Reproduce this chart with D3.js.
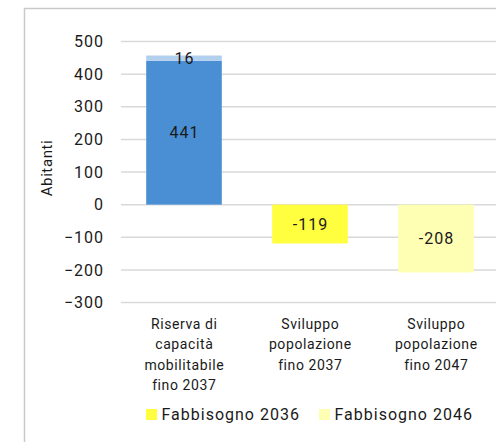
<!DOCTYPE html>
<html>
<head>
<meta charset="utf-8">
<script src="https://cdn.jsdelivr.net/npm/d3@7"></script>
<style>
  body { margin: 0; background: #fff; }
  text { font-family: Roboto, "Liberation Sans", sans-serif; fill: #1a1a1a; }
</style>
</head>
<body>
<div id="chart"></div>
<script>
//////////////////////////////////////////////////////////////
///////////////////////// Data ///////////////////////////////
//////////////////////////////////////////////////////////////

var categories = [
  ["Riserva di", "capacità", "mobilitabile", "fino 2037"],
  ["Sviluppo", "popolazione", "fino 2037"],
  ["Sviluppo", "popolazione", "fino 2047"]
];
var catKeys = ["riserva", "svil2037", "svil2047"];

// stacked segments: category, value, series
var seriesNames = ["Riserva", "Riserva extra", "Fabbisogno 2036", "Fabbisogno 2046"];
var seriesColors = ["#4a8fd3", "#b2cfee", "#ffff3f", "#ffffb4"];
var segCategory = ["riserva", "riserva", "svil2037", "svil2047"];
var segValues = [441, 16, -119, -208];

var yTicks = [-300, -200, -100, 0, 100, 200, 300, 400, 500];
var legendNames = ["Fabbisogno 2036", "Fabbisogno 2046"];

//////////////////////////////////////////////////////////////
/////////////////////// Settings /////////////////////////////
//////////////////////////////////////////////////////////////

var W = 496, H = 442;
var plot = {left: 121, right: 499};

var svg = d3.select("#chart").append("svg")
    .attr("width", W)
    .attr("height", H);

// outer chart frame (runs past the window on right/bottom)
svg.append("rect")
    .attr("x", 24.5).attr("y", 8.5)
    .attr("width", 500).attr("height", 460)
    .attr("fill", "none")
    .attr("stroke", "#c9c9c9")
    .attr("stroke-width", 1.5);

var xScale = d3.scaleBand().domain(catKeys).range([plot.left, plot.right]).paddingInner(0.4).paddingOuter(0.2);
var yScale = d3.scaleLinear().domain([-300, 500]).range([302.5, 41.5]);
var colorScale = d3.scaleOrdinal().domain(seriesNames).range(seriesColors);

//Gridlines
svg.append("g").selectAll("line")
    .data(yTicks).enter()
    .append("line")
        .attr("x1", plot.left).attr("x2", W)
        .attr("y1", function(d) { return yScale(d); })
        .attr("y2", function(d) { return yScale(d); })
        .attr("stroke", "#d9d9d9")
        .attr("stroke-width", 1.5);

//Y axis labels
var yAxis = d3.axisLeft(yScale).tickValues(yTicks).tickSize(0).tickPadding(0);
var gY = svg.append("g")
    .attr("transform", "translate(104,0)")
    .call(yAxis);
gY.select(".domain").remove();
gY.selectAll("text")
    .style("font-size", "16px")
    .style("font-family", "Roboto, sans-serif")
    .style("letter-spacing", "1px")
    .attr("fill", "#1a1a1a");

//Axis title
svg.append("text")
    .attr("transform", "translate(52," + 168 + ") rotate(-90)")
    .attr("text-anchor", "middle")
    .style("font-size", "15px")
    .style("letter-spacing", "0.6px")
    .text("Abitanti");

//Bars (stacked from zero)
var segs = [];
var posBase = {}, negBase = {};
segValues.forEach(function(v, i) {
  var c = segCategory[i];
  posBase[c] = posBase[c] || 0;
  negBase[c] = negBase[c] || 0;
  var y0, y1;
  if (v >= 0) { y0 = posBase[c]; y1 = y0 + v; posBase[c] = y1; }
  else { y0 = negBase[c]; y1 = y0 + v; negBase[c] = y1; }
  segs.push({cat: c, name: seriesNames[i], value: v, y0: y0, y1: y1});
});

svg.append("g").selectAll("rect")
    .data(segs).enter()
    .append("rect")
        .attr("x", function(d) { return xScale(d.cat); })
        .attr("width", xScale.bandwidth())
        .attr("y", function(d) { return yScale(Math.max(d.y0, d.y1)); })
        .attr("height", function(d) { return Math.abs(yScale(d.y0) - yScale(d.y1)); })
        .attr("fill", function(d) { return colorScale(d.name); });

//Data labels
svg.append("g").selectAll("text")
    .data(segs).enter()
    .append("text")
        .attr("x", function(d) { return xScale(d.cat) + xScale.bandwidth() / 2 + 0.5; })
        .attr("y", function(d) { return yScale((d.y0 + d.y1) / 2); })
        .attr("dy", "0.36em")
        .attr("text-anchor", "middle")
        .style("font-size", "16px")
        .style("letter-spacing", "1px")
        .text(function(d) { return d.value; });

//Category labels
var catLabels = svg.append("g").selectAll("text")
    .data(categories).enter()
    .append("text")
        .attr("text-anchor", "middle")
        .attr("x", function(d, i) { return xScale(catKeys[i]) + xScale.bandwidth() / 2 + 0.3; })
        .attr("y", 329)
        .style("font-size", "14px")
        .style("letter-spacing", "0.6px");
catLabels.selectAll("tspan")
    .data(function(d) { return d; }).enter()
    .append("tspan")
        .attr("x", function() { return d3.select(this.parentNode).attr("x"); })
        .attr("dy", function(d, i) { return i === 0 ? 0 : 20.3; })
        .text(function(d) { return d; });

//Legend
var legendX = [146, 319];
var legend = svg.append("g").selectAll("g")
    .data(legendNames).enter()
    .append("g")
        .attr("transform", function(d, i) { return "translate(" + legendX[i] + ",409)"; });
legend.append("rect")
    .attr("width", 11).attr("height", 11)
    .attr("fill", function(d) { return colorScale(d); });
legend.append("text")
    .attr("x", 15.5).attr("y", 5.5)
    .attr("dy", "0.36em")
    .style("font-size", "16px")
    .style("letter-spacing", "1px")
    .text(function(d) { return d; });
</script>
</body>
</html>
